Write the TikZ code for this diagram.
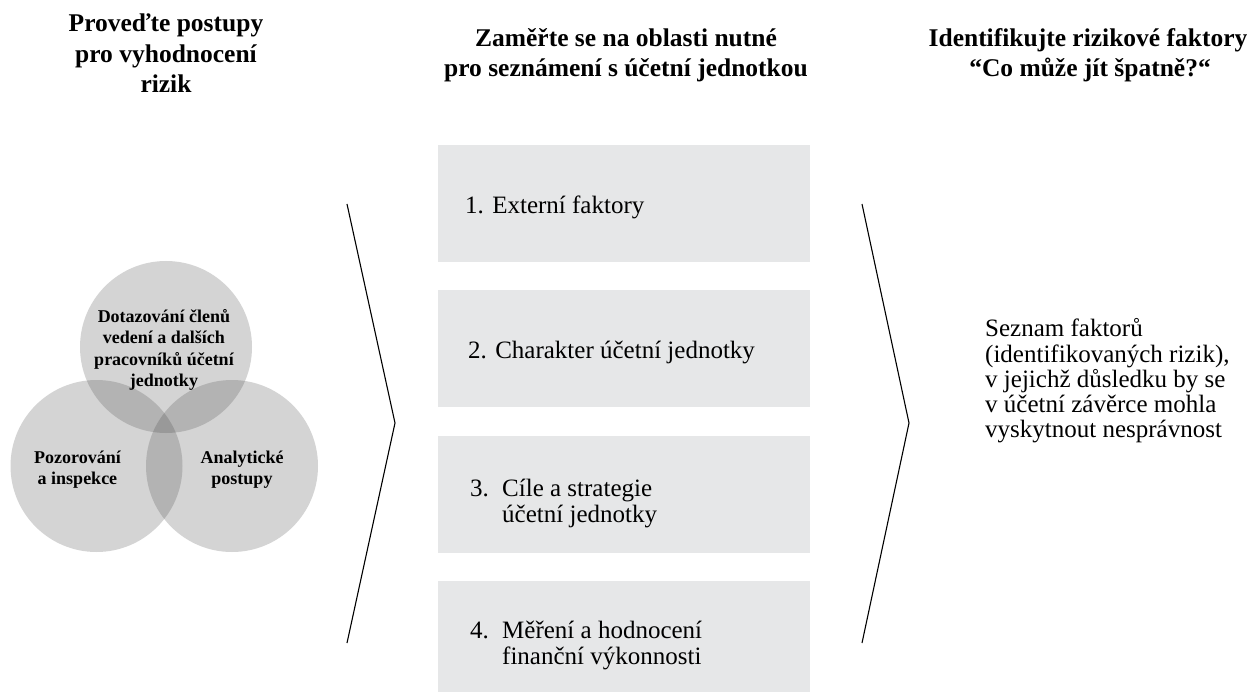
\documentclass[tikz,border=0pt]{standalone}
\usepackage{fontspec}
\setmainfont{Liberation Serif}
\begin{document}
\begin{tikzpicture}[x=1pt,y=-1pt,
  head/.style={font=\fontsize{25.5}{30.5}\selectfont\bfseries, align=center, anchor=base},
  venn/.style={circle, minimum size=172pt, inner sep=0pt, fill=black!72, fill opacity=0.235},
  venntext/.style={font=\fontsize{18}{21.3}\selectfont\bfseries, align=center, text opacity=1},
  panel/.style={rectangle, fill=panelgray, minimum width=372pt, minimum height=117pt, inner sep=0pt, anchor=north west},
  ptext/.style={font=\fontsize{25}{26}\selectfont, anchor=base west, inner sep=0pt},
  chev/.style={line width=1.1pt, line join=miter}
]
\definecolor{panelgray}{HTML}{E6E7E8}
\useasboundingbox (0,0) rectangle (1252,692);

% column headings
\node[head] (h1a) at (166,32) {Proveďte postupy};
\node[head] (h1b) at (166,63) {pro vyhodnocení};
\node[head] (h1c) at (166,93) {rizik};
\node[head] (h2a) at (626,47) {Zaměřte se na oblasti nutné};
\node[head] (h2b) at (626,77) {pro seznámení s účetní jednotkou};
\node[head] (h3a) at (1088,47) {Identifikujte rizikové faktory};
\node[head] (h3b) at (1090,77) {“Co může jít špatně?“};

% three overlapping circles
\node[venn] (ctop) at (166,347) {};
\node[venn] (cleft) at (96.5,466) {};
\node[venn] (cright) at (232,466) {};
\node[venntext] (ttop) at (164,350) {Dotazování členů\\vedení a dalších\\pracovníků účetní\\jednotky};
\node[venntext] (tleft) at (77.5,470) {Pozorování\\a inspekce};
\node[venntext] (tright) at (242,470) {Analytické\\postupy};

% chevrons
\coordinate (l1) at (347,204);
\coordinate (l2) at (395,423);
\coordinate (l3) at (347,643);
\coordinate (r1) at (862,204);
\coordinate (r2) at (909,423);
\coordinate (r3) at (862,643);
\draw[chev] (l1) -- (l2) -- (l3);
\draw[chev] (r1) -- (r2) -- (r3);

% panels
\node[panel] (p1) at (438,145) {};
\node[panel] (p2) at (438,290) {};
\node[panel] (p3) at (438,436) {};
\node[panel] (p4) at (438,581) {};

\node[ptext] (p1t) at (465,214) {1. Externí faktory};
\node[ptext] (p2t) at (468,359) {2. Charakter účetní jednotky};
\node[ptext] (p3t) at (470,496) {\makebox[32pt][l]{3.}Cíle a strategie};
\node[ptext] (p3u) at (502,522) {účetní jednotky};
\node[ptext] (p4t) at (470,638) {\makebox[32pt][l]{4.}Měření a hodnocení};
\node[ptext] (p4u) at (502,664) {finanční výkonnosti};

% result text
\node[ptext] (s1) at (985,337) {Seznam faktorů};
\node[ptext] (s2) at (985,362) {(identifikovaných rizik),};
\node[ptext] (s3) at (985,387) {v jejichž důsledku by se};
\node[ptext] (s4) at (985,412) {v účetní závěrce mohla};
\node[ptext] (s5) at (985,437) {vyskytnout nesprávnost};
\end{tikzpicture}
\end{document}
